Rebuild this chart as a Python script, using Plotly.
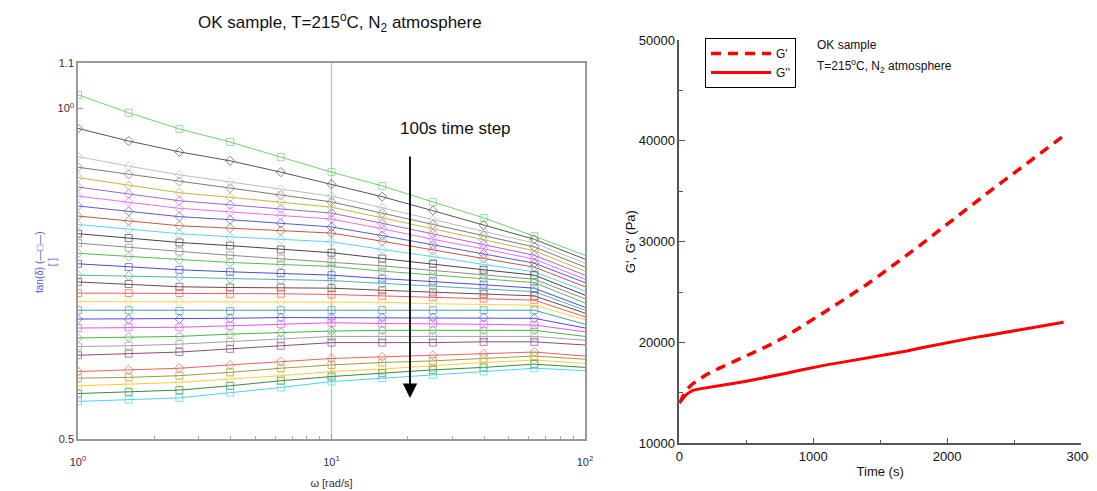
import plotly.graph_objects as go

W, H = 1097, 491
OFF = 8  # page body margin of the saved html
FONT = "Liberation Sans, Arial, sans-serif"

# ---------------- left panel data: tan(delta) vs omega, one curve per 100 s ----------------
omega = [1.0, 1.585, 2.512, 3.981, 6.310, 10.0, 15.85, 25.12, 39.81, 63.10, 100.0]

tan_delta = [
    [1.029, 0.991, 0.958, 0.932, 0.903, 0.875, 0.850, 0.822, 0.795, 0.765, 0.735],
    [0.959, 0.934, 0.913, 0.896, 0.875, 0.853, 0.831, 0.807, 0.783, 0.760, 0.729],
    [0.904, 0.886, 0.870, 0.857, 0.844, 0.832, 0.812, 0.792, 0.773, 0.754, 0.723],
    [0.884, 0.871, 0.858, 0.846, 0.834, 0.822, 0.803, 0.784, 0.766, 0.748, 0.717],
    [0.865, 0.851, 0.838, 0.830, 0.822, 0.813, 0.795, 0.777, 0.759, 0.742, 0.711],
    [0.848, 0.836, 0.824, 0.817, 0.810, 0.803, 0.786, 0.769, 0.752, 0.735, 0.705],
    [0.832, 0.822, 0.811, 0.805, 0.799, 0.793, 0.777, 0.760, 0.745, 0.729, 0.699],
    [0.815, 0.806, 0.797, 0.792, 0.786, 0.780, 0.766, 0.751, 0.737, 0.723, 0.694],
    [0.798, 0.790, 0.782, 0.778, 0.774, 0.770, 0.757, 0.743, 0.730, 0.717, 0.688],
    [0.784, 0.776, 0.769, 0.764, 0.760, 0.756, 0.744, 0.733, 0.721, 0.710, 0.682],
    [0.769, 0.762, 0.755, 0.750, 0.744, 0.739, 0.730, 0.722, 0.713, 0.705, 0.676],
    [0.754, 0.747, 0.741, 0.735, 0.730, 0.725, 0.719, 0.712, 0.706, 0.699, 0.671],
    [0.738, 0.733, 0.728, 0.724, 0.721, 0.718, 0.711, 0.705, 0.699, 0.694, 0.665],
    [0.722, 0.717, 0.713, 0.710, 0.708, 0.705, 0.700, 0.696, 0.691, 0.686, 0.659],
    [0.705, 0.704, 0.702, 0.700, 0.698, 0.697, 0.693, 0.689, 0.684, 0.681, 0.655],
    [0.695, 0.692, 0.688, 0.687, 0.687, 0.686, 0.683, 0.680, 0.678, 0.675, 0.651],
    [0.679, 0.679, 0.679, 0.678, 0.678, 0.677, 0.675, 0.673, 0.671, 0.669, 0.646],
    [0.667, 0.667, 0.667, 0.667, 0.667, 0.667, 0.666, 0.664, 0.663, 0.662, 0.642],
    [0.655, 0.655, 0.654, 0.654, 0.655, 0.655, 0.655, 0.655, 0.655, 0.655, 0.636],
    [0.643, 0.643, 0.643, 0.644, 0.645, 0.645, 0.645, 0.645, 0.645, 0.644, 0.631],
    [0.631, 0.632, 0.632, 0.634, 0.636, 0.638, 0.637, 0.637, 0.636, 0.635, 0.626],
    [0.618, 0.619, 0.620, 0.623, 0.625, 0.627, 0.628, 0.628, 0.628, 0.628, 0.620],
    [0.607, 0.608, 0.610, 0.613, 0.616, 0.620, 0.620, 0.620, 0.620, 0.620, 0.615],
    [0.596, 0.598, 0.600, 0.604, 0.608, 0.612, 0.612, 0.612, 0.613, 0.613, 0.609],
    [0.576, 0.578, 0.580, 0.584, 0.588, 0.592, 0.594, 0.596, 0.598, 0.600, 0.595],
    [0.568, 0.569, 0.571, 0.575, 0.580, 0.584, 0.587, 0.589, 0.592, 0.595, 0.591],
    [0.559, 0.561, 0.563, 0.567, 0.571, 0.576, 0.579, 0.583, 0.587, 0.590, 0.586],
    [0.550, 0.552, 0.554, 0.559, 0.565, 0.570, 0.574, 0.578, 0.581, 0.585, 0.581],
    [0.541, 0.543, 0.545, 0.551, 0.557, 0.564, 0.568, 0.572, 0.576, 0.580, 0.577],
]

curve_colors = [
    "#6fd36f", "#555555", "#bdbdbd", "#7a7a7a", "#c9b24a", "#9a6ad0", "#f06cf0",
    "#5a5ad0", "#bb5a4a", "#5fd0f0", "#444444", "#8a8a8a", "#5cb85c", "#4a4ad8",
    "#55b0b0", "#6b4a4a", "#f05a5a", "#ffd04a", "#3f9f9f", "#4a4af0", "#f04ff0",
    "#4cb04c", "#a0a0a0", "#8a4a8a", "#f06060", "#a09a40", "#ffcc33", "#3a8a3a",
    "#4fd0f0",
]
curve_symbols = [
    "square", "diamond", "diamond", "diamond", "diamond", "diamond", "diamond",
    "diamond", "diamond", "diamond", "square", "square", "diamond", "square",
    "diamond", "square", "square", "diamond", "square", "diamond", "square",
    "diamond", "square", "square", "diamond", "square", "diamond", "square",
    "square",
]

cursor_omega = [10.0, 10.0]
cursor_tan = [0.5, 1.1]

# ---------------- right panel data: G', G'' vs time ----------------
time_s = [0, 25, 50, 75, 100, 150, 200, 300, 400, 500, 600, 700, 800, 900, 1000,
          1100, 1200, 1300, 1400, 1500, 1600, 1700, 1800, 1900, 2000, 2100, 2200,
          2300, 2400, 2500, 2600, 2700, 2800, 2870]
g_storage = [14000, 14700, 15200, 15600, 15900, 16350, 16800, 17450, 18050, 18650,
             19250, 19900, 20650, 21450, 22300, 23150, 24000, 24850, 25750, 26700,
             27650, 28650, 29650, 30700, 31750, 32800, 33800, 34800, 35800, 36800,
             37800, 38800, 39800, 40500]
g_loss = [14000, 14450, 14800, 15050, 15250, 15400, 15520, 15720, 15930, 16150,
          16400, 16680, 16950, 17250, 17550, 17780, 18000, 18220, 18450, 18650,
          18880, 19150, 19450, 19720, 19980, 20230, 20480, 20700, 20920, 21150,
          21400, 21620, 21830, 22000]


def px(x):
    return (x - OFF) / W


def py(y):
    return 1 - (y - OFF) / H


fig = go.Figure()

fig.add_trace(go.Scatter(
    x=cursor_omega, y=cursor_tan, mode="lines", xaxis="x", yaxis="y",
    line=dict(color="#9ad89a", width=1.2), showlegend=False, hoverinfo="skip"))

n_pts = len(omega)
for vals, col, sym in zip(tan_delta, curve_colors, curve_symbols):
    fig.add_trace(go.Scatter(
        x=omega, y=vals, mode="lines+markers", xaxis="x", yaxis="y",
        line=dict(color=col, width=1),
        marker=dict(symbol=sym + "-open", size=[7] * (n_pts - 1) + [0],
                    color=col, line=dict(color=col, width=1)),
        showlegend=False))

fig.add_trace(go.Scatter(
    x=time_s, y=g_storage, mode="lines", name="G'", xaxis="x2", yaxis="y2",
    line=dict(color="#ff0000", width=3.5, dash="10px,7px")))
fig.add_trace(go.Scatter(
    x=time_s, y=g_loss, mode="lines", name="G''", xaxis="x2", yaxis="y2",
    line=dict(color="#ff0000", width=3)))

axis_font = dict(family=FONT, size=11, color="#333333")
fig.update_layout(
    width=W, height=H,
    margin=dict(l=0, r=0, t=0, b=0, autoexpand=False),
    paper_bgcolor="white", plot_bgcolor="white",
    font=dict(family=FONT),
    xaxis=dict(
        type="log", range=[0, 2], domain=[px(78), px(585)], anchor="y",
        automargin=False,
        showline=True, linecolor="#999999", linewidth=1.5, mirror=True,
        showgrid=False, zeroline=False,
        tickvals=[1, 10, 100],
        ticktext=["10<sup>0</sup>", "10<sup>1</sup>", "10<sup>2</sup>"],
        ticks="inside", ticklen=5, tickcolor="#999999", tickfont=axis_font,
        ticklabelstandoff=12,
        minor=dict(tickvals=[2, 3, 4, 5, 6, 7, 8, 9, 20, 30, 40, 50, 60, 70, 80, 90],
                   ticks="inside", ticklen=3, tickcolor="#aaaaaa", showgrid=False),
        title=dict(text="ω [rad/s]", font=dict(family=FONT, size=11, color="#333333"),
                   standoff=12),
    ),
    yaxis=dict(
        type="log", range=[-0.30103, 0.041393], domain=[py(439), py(63)], anchor="x",
        automargin=False,
        showline=True, linecolor="#999999", linewidth=1.5, mirror=True,
        showgrid=False, zeroline=False,
        tickvals=[0.5, 1.0, 1.1], ticktext=["0.5", "10<sup>0</sup>", "1.1"],
        ticks="inside", ticklen=5, tickcolor="#999999", tickfont=axis_font,
    ),
    xaxis2=dict(
        range=[0, 3000], domain=[px(679.3), px(1081)], anchor="y2",
        automargin=False,
        showline=True, linecolor="#555555", linewidth=1.5, mirror=False,
        showgrid=False, zeroline=False,
        tickvals=[0, 1000, 2000, 3000], tickformat="d", ticks="inside", ticklen=6,
        tickcolor="#555555",
        tickfont=dict(family=FONT, size=13, color="#111111"),
        minor=dict(tickvals=[500, 1500, 2500], ticks="inside", ticklen=4,
                   tickcolor="#555555", showgrid=False),
        title=dict(text="Time (s)", font=dict(family=FONT, size=13, color="#111111"),
                   standoff=4),
    ),
    yaxis2=dict(
        range=[10000, 50000], domain=[py(443.3), py(40)], anchor="x2",
        automargin=False,
        showline=True, linecolor="#555555", linewidth=1.5, mirror=False,
        showgrid=False, zeroline=False,
        tickvals=[10000, 20000, 30000, 40000, 50000], tickformat="d",
        ticks="inside", ticklen=6, tickcolor="#555555",
        tickfont=dict(family=FONT, size=13, color="#111111"),
        minor=dict(tickvals=[15000, 25000, 35000, 45000], ticks="inside", ticklen=4,
                   tickcolor="#555555", showgrid=False),
        title=dict(text="G', G'' (Pa)", font=dict(family=FONT, size=13, color="#111111"),
                   standoff=0),
    ),
    legend=dict(
        x=px(705), y=py(38), xanchor="left", yanchor="top",
        bordercolor="#000000", borderwidth=1, bgcolor="white",
        font=dict(family=FONT, size=12, color="#111111"),
        tracegroupgap=0, itemwidth=60,
    ),
    showlegend=True,
)

fig.add_annotation(
    x=px(340), y=py(22), xref="paper", yref="paper", showarrow=False,
    xanchor="center", yanchor="middle",
    text="OK sample, T=215<sup>o</sup>C, N<sub>2</sub> atmosphere",
    font=dict(family=FONT, size=17, color="#111111"))
fig.add_annotation(
    x=px(455), y=py(128), xref="paper", yref="paper", showarrow=False,
    xanchor="center", yanchor="middle",
    text="100s time step", font=dict(family=FONT, size=17, color="#111111"))
fig.add_annotation(
    x=px(410), y=py(398), xref="paper", yref="paper", text="",
    showarrow=True, ax=0, ay=-243, arrowhead=2, arrowsize=1.6, arrowwidth=1.8,
    arrowcolor="#000000")
fig.add_annotation(
    x=px(46), y=py(262), xref="paper", yref="paper", showarrow=False,
    xanchor="center", yanchor="middle",
    text="tan(δ) (—<b>□</b>—)<br>[ ]", textangle=-90,
    font=dict(family=FONT, size=10, color="#5555dd"))
fig.add_annotation(
    x=px(815), y=py(45), xref="paper", yref="paper", showarrow=False,
    xanchor="left", yanchor="middle",
    text="OK sample", font=dict(family=FONT, size=12, color="#111111"))
fig.add_annotation(
    x=px(815), y=py(66), xref="paper", yref="paper", showarrow=False,
    xanchor="left", yanchor="middle",
    text="T=215<sup>o</sup>C, N<sub>2</sub> atmosphere",
    font=dict(family=FONT, size=12, color="#111111"))

fig.write_html("out.html")
